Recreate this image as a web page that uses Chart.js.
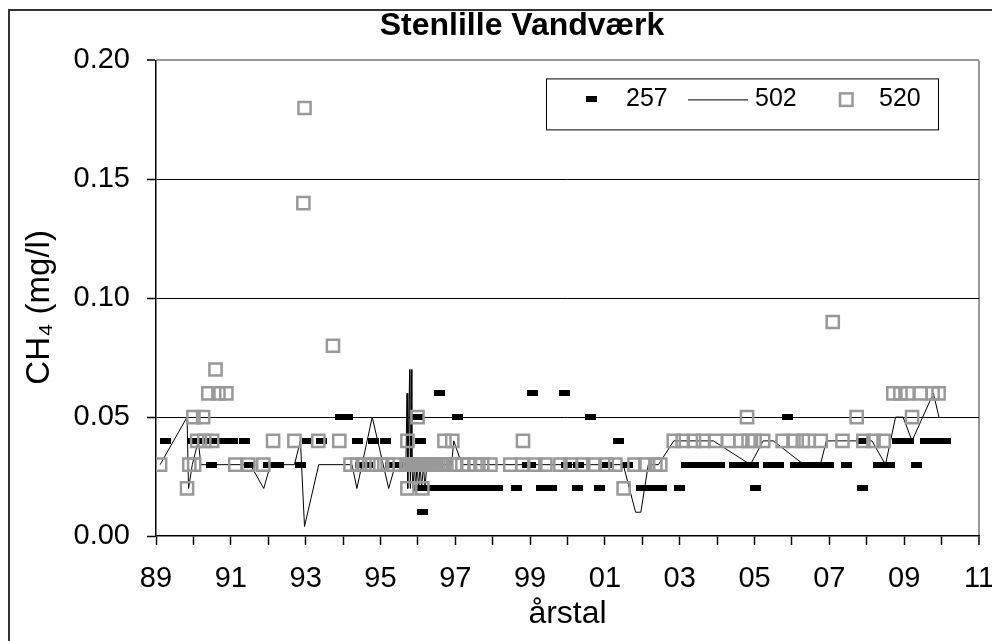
<!DOCTYPE html>
<html>
<head>
<meta charset="utf-8">
<title>Stenlille Vandværk</title>
<script src="https://cdn.jsdelivr.net/npm/chart.js@4/dist/chart.umd.min.js"></script>
<style>
  html, body { margin: 0; padding: 0; background: #fff; overflow: hidden; }
  #frame { position: absolute; left: 8px; top: 9px; width: 1030px; height: 700px; border: 2px solid #333; }
  #chart { position: absolute; left: 0; top: 0; }
</style>
</head>
<body>
<div id="frame"></div>
<canvas id="chart" width="1044" height="641"></canvas>
<script>
/* ---- data (decimal year, CH4 mg/l) ---- */

const years257 = [
  1989.25, 1989.97, 1990.18, 1990.40, 1990.48, 1990.63, 1990.85, 1991.04, 1991.36, 1991.49,
  1992.00, 1992.27, 1992.85, 1993.05, 1993.42, 1993.93, 1994.11, 1994.38, 1994.46, 1994.65,
  1994.81, 1995.13, 1995.26, 1995.45, 1995.99, 1996.02, 1996.07, 1996.12, 1996.13, 1996.29,
  1996.41, 1996.57, 1996.58, 1996.70, 1996.84, 1997.01, 1997.06, 1997.12, 1997.28, 1997.43,
  1997.55, 1997.71, 1997.86, 1998.02, 1998.14, 1998.63, 1998.93, 1999.02, 1999.06, 1999.30,
  1999.57, 1999.92, 1999.97, 2000.26, 2000.29, 2000.61, 2000.85, 2001.08, 2001.37, 2001.60,
  2001.97, 2002.24, 2002.51, 2003.00, 2003.18, 2003.48, 2003.77, 2004.06, 2004.46, 2004.76,
  2004.97, 2005.02, 2005.37, 2005.64, 2005.87, 2006.09, 2006.38, 2006.67, 2006.97, 2007.46,
  2007.86, 2007.89, 2008.31, 2008.61, 2008.82, 2009.11, 2009.33, 2009.57, 2009.84, 2010.10
];
const ch4_257 = [
  0.04, 0.04, 0.04, 0.04, 0.03, 0.04, 0.04, 0.04, 0.04, 0.03,
  0.03, 0.03, 0.03, 0.04, 0.04, 0.05, 0.05, 0.04, 0.03, 0.03,
  0.04, 0.04, 0.03, 0.03, 0.05, 0.02, 0.04, 0.01, 0.02, 0.02,
  0.02, 0.06, 0.02, 0.02, 0.02, 0.02, 0.05, 0.02, 0.02, 0.02,
  0.02, 0.02, 0.02, 0.02, 0.02, 0.02, 0.03, 0.03, 0.06, 0.02,
  0.02, 0.06, 0.03, 0.02, 0.03, 0.05, 0.02, 0.03, 0.04, 0.03,
  0.02, 0.02, 0.02, 0.02, 0.03, 0.03, 0.03, 0.03, 0.03, 0.03,
  0.03, 0.02, 0.03, 0.03, 0.05, 0.03, 0.03, 0.03, 0.03, 0.03,
  0.04, 0.02, 0.03, 0.03, 0.04, 0.04, 0.03, 0.04, 0.04, 0.04
];

const years502 = [
  1989.11, 1989.83, 1989.87, 1989.97, 1990.13, 1990.20, 1991.52, 1991.88, 1992.06, 1992.70,
  1992.86, 1992.97, 1993.35, 1994.24, 1994.37, 1994.78, 1995.22, 1995.40, 1995.68, 1995.71,
  1995.73, 1995.78, 1995.80, 1995.82, 1995.84, 1995.87, 1995.91, 1995.94, 1995.98, 1996.02,
  1996.06, 1996.10, 1996.15, 1996.19, 1996.24, 1996.90, 1996.96, 1997.18, 2001.49, 2001.82,
  2001.96, 2002.16, 2002.43, 2002.84, 2003.90, 2004.89, 2005.23, 2005.50, 2006.32, 2006.76,
  2006.92, 2008.14, 2008.50, 2008.77, 2008.97, 2009.21, 2009.78, 2009.93
];
const ch4_502 = [
  0.03, 0.05, 0.02, 0.03, 0.04, 0.03, 0.03, 0.02, 0.03, 0.03,
  0.04, 0.004, 0.03, 0.03, 0.02, 0.05, 0.02, 0.03, 0.03, 0.06,
  0.02, 0.07, 0.02, 0.07, 0.03, 0.02, 0.03, 0.02, 0.03, 0.02,
  0.03, 0.02, 0.03, 0.02, 0.03, 0.03, 0.04, 0.03, 0.03, 0.01,
  0.01, 0.03, 0.03, 0.04, 0.04, 0.03, 0.04, 0.04, 0.03, 0.03,
  0.04, 0.04, 0.03, 0.05, 0.05, 0.04, 0.06, 0.05
];

const years520 = [
  1989.11, 1989.83, 1989.89, 1990.00, 1990.02, 1990.10, 1990.26, 1990.29, 1990.40, 1990.50,
  1990.59, 1990.67, 1990.88, 1991.12, 1991.47, 1991.87, 1992.13, 1992.70, 1992.94, 1992.97,
  1993.34, 1993.73, 1993.90, 1994.20, 1994.38, 1994.57, 1994.78, 1995.00, 1995.19, 1995.37,
  1995.72, 1995.72, 1995.72, 1995.78, 1995.83, 1995.87, 1995.93, 1995.98, 1995.99, 1996.05,
  1996.10, 1996.12, 1996.16, 1996.23, 1996.29, 1996.36, 1996.42, 1996.49, 1996.55, 1996.62,
  1996.69, 1996.71, 1996.76, 1996.92, 1997.00, 1997.19, 1997.35, 1997.54, 1997.72, 1997.94,
  1998.47, 1998.79, 1998.81, 1999.14, 1999.41, 1999.81, 2000.08, 2000.42, 2000.69, 2001.05,
  2001.28, 2001.50, 2001.79, 2002.08, 2002.35, 2002.48, 2002.84, 2003.08, 2003.38, 2003.62,
  2003.96, 2004.30, 2004.62, 2004.80, 2004.84, 2005.00, 2005.23, 2005.75, 2006.04, 2006.29,
  2006.45, 2006.77, 2007.09, 2007.35, 2007.73, 2007.91, 2008.18, 2008.45, 2008.71, 2008.90,
  2009.09, 2009.21, 2009.44, 2009.76, 2009.92
];
const ch4_520 = [
  0.03, 0.02, 0.03, 0.05, 0.03, 0.04, 0.05, 0.04, 0.06, 0.04,
  0.07, 0.06, 0.06, 0.03, 0.03, 0.03, 0.04, 0.04, 0.14, 0.18,
  0.04, 0.08, 0.04, 0.03, 0.03, 0.03, 0.03, 0.03, 0.03, 0.03,
  0.04, 0.02, 0.03, 0.03, 0.03, 0.03, 0.03, 0.03, 0.05, 0.03,
  0.03, 0.02, 0.03, 0.03, 0.03, 0.03, 0.03, 0.03, 0.03, 0.03,
  0.03, 0.04, 0.03, 0.04, 0.03, 0.03, 0.03, 0.03, 0.03, 0.03,
  0.03, 0.03, 0.04, 0.03, 0.03, 0.03, 0.03, 0.03, 0.03, 0.03,
  0.03, 0.02, 0.03, 0.03, 0.03, 0.03, 0.04, 0.04, 0.04, 0.04,
  0.04, 0.04, 0.04, 0.05, 0.04, 0.04, 0.04, 0.04, 0.04, 0.04,
  0.04, 0.04, 0.09, 0.04, 0.05, 0.04, 0.04, 0.04, 0.06, 0.06,
  0.06, 0.05, 0.06, 0.06, 0.06
];

const seriesLabels = ['257', '502', '520'];
const yTicks = [0, 0.05, 0.10, 0.15, 0.20];

/* ---- helpers ---- */

function pairs(xs, ys) {
  return xs.map((x, i) => ({ x: x, y: ys[i] }));
}

// small filled black bar used as the marker of well 257
const barMarker = document.createElement('canvas');
barMarker.width = 11;
barMarker.height = 6;
const bm = barMarker.getContext('2d');
bm.fillStyle = '#000';
bm.fillRect(0, 0, 11, 6);

const FONT = '"Liberation Sans", Arial, sans-serif';
const GREY = '#999999';

/* ---- legend box drawn inside the plot area ---- */
const legendBox = {
  id: 'legendBox',
  afterDraw(chart) {
    const { ctx, chartArea } = chart;
    const left = chartArea.right - 433;
    const top = chartArea.top + 18;
    const w = 392, h = 51, mid = top + 21;
    const ds = chart.data.datasets;

    ctx.save();
    ctx.fillStyle = '#fff';
    ctx.fillRect(left, top, w, h);
    ctx.strokeStyle = '#000';
    ctx.lineWidth = 1;
    ctx.strokeRect(left + 0.5, top + 0.5, w, h);

    ctx.font = '25px ' + FONT;
    ctx.fillStyle = '#000';
    ctx.textBaseline = 'middle';

    // 257 - black bar
    ctx.drawImage(barMarker, left + 40, mid - 3);
    ctx.fillText(ds[0].label, left + 80, mid);

    // 502 - thin line
    ctx.beginPath();
    ctx.moveTo(left + 142, mid + 0.5);
    ctx.lineTo(left + 202, mid + 0.5);
    ctx.stroke();
    ctx.fillText(ds[1].label, left + 209, mid);

    // 520 - open grey square
    ctx.strokeStyle = GREY;
    ctx.lineWidth = 2.5;
    ctx.strokeRect(left + 294, mid - 6, 12.5, 12.5);
    ctx.fillText(ds[2].label, left + 333, mid);
    ctx.restore();
  }
};

/* ---- chart ---- */
new Chart(document.getElementById('chart'), {
  type: 'scatter',
  data: {
    datasets: [
      {
        label: seriesLabels[0],
        data: pairs(years257, ch4_257),
        pointStyle: barMarker,
        pointRadius: 6,
        order: 3
      },
      {
        label: seriesLabels[1],
        data: pairs(years502, ch4_502),
        showLine: true,
        borderColor: '#000',
        borderWidth: 1,
        pointRadius: 0,
        tension: 0,
        order: 2
      },
      {
        label: seriesLabels[2],
        data: pairs(years520, ch4_520),
        pointStyle: 'rect',
        pointRadius: 8.6,
        pointBorderWidth: 2.5,
        pointBorderColor: GREY,
        pointBackgroundColor: 'rgba(0,0,0,0)',
        order: 1
      }
    ]
  },
  options: {
    responsive: false,
    animation: false,
    events: [],
    layout: { padding: 0 },
    plugins: {
      legend: { display: false },
      tooltip: { enabled: false },
      title: {
        display: true,
        text: 'Stenlille Vandværk',
        color: '#000',
        font: { family: FONT, size: 32, weight: 'bold' },
        padding: { top: 7, bottom: 15 }
      }
    },
    scales: {
      x: {
        type: 'linear',
        position: 'bottom',
        min: 1989,
        max: 2011,
        afterFit: (s) => { s.height = 105; },
        ticks: {
          stepSize: 1,
          autoSkip: false,
          maxRotation: 0,
          padding: 17,
          color: '#000',
          font: { family: FONT, size: 29 },
          callback: (v) => (v % 2 === 1 ? String(v % 100).padStart(2, '0') : '')
        },
        grid: {
          drawOnChartArea: true,
          color: (c) => (c.tick && c.tick.value === 2011 ? GREY : 'rgba(0,0,0,0)'),
          lineWidth: (c) => (c.tick && c.tick.value === 2011 ? 2 : 1),
          tickColor: '#000',
          tickLength: 9,
          tickWidth: 1.5
        },
        border: { display: true, color: '#000', width: 1.5 },
        title: {
          display: true,
          text: 'årstal',
          color: '#000',
          font: { family: FONT, size: 32 },
          padding: { top: 0, bottom: 8 }
        }
      },
      y: {
        position: 'left',
        min: 0,
        max: 0.2,
        afterFit: (s) => { s.width = 156; },
        afterBuildTicks: (s) => { s.ticks = yTicks.map((v) => ({ value: v })); },
        ticks: {
          padding: 17,
          color: '#000',
          font: { family: FONT, size: 29 },
          callback: (v) => Number(v).toFixed(2)
        },
        grid: {
          color: (c) => {
            const v = c.tick ? c.tick.value : 0;
            if (Math.abs(v - 0.2) < 1e-9) return GREY;
            if (Math.abs(v) < 1e-9) return 'rgba(0,0,0,0)';
            return '#000';
          },
          lineWidth: (c) => (c.tick && Math.abs(c.tick.value - 0.2) < 1e-9 ? 2 : 1),
          tickColor: '#000',
          tickLength: 9,
          tickWidth: 1.5
        },
        border: { display: true, color: '#000', width: 1.5 },
        title: {
          display: true,
          // trailing spaces nudge the centred label down, as in the original
          text: 'CH\u2084 (mg/l)  ',
          color: '#000',
          font: { family: FONT, size: 33 },
          padding: { top: 20, bottom: 0 }
        }
      },
      // empty right-hand spacer so the plot ends where the original does
      y2: {
        position: 'right',
        display: true,
        afterFit: (s) => { s.width = 65; },
        ticks: { display: false },
        grid: { display: false },
        border: { display: false }
      }
    }
  },
  plugins: [legendBox]
});
</script>
</body>
</html>
